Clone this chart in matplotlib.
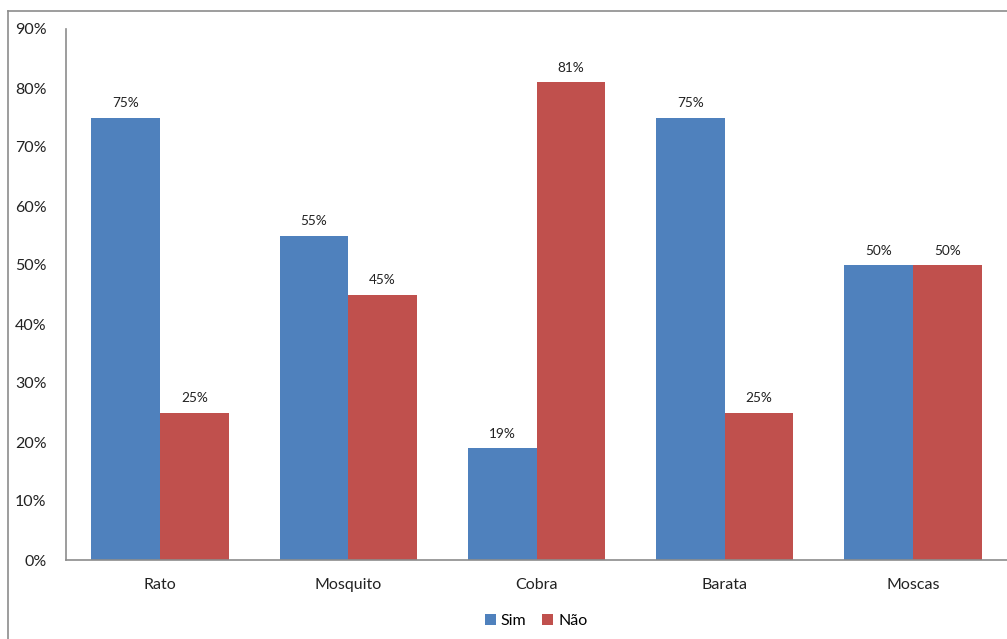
import matplotlib
matplotlib.use("Agg")
import matplotlib.pyplot as plt
from matplotlib.lines import Line2D
import numpy as np

categories = ["Rato", "Mosquito", "Cobra", "Barata", "Moscas"]
sim = [75, 55, 19, 75, 50]
nao = [25, 45, 81, 25, 50]
series_names = ["Sim", "Não"]
colors = ["#4F81BD", "#C0504D"]

plt.rcParams["font.family"] = ["Lato", "DejaVu Sans"]

fig = plt.figure(figsize=(10.07, 6.39), dpi=100)
ax = fig.add_axes([66 / 1007, 79 / 639, 941 / 1007, 531 / 639])

x = np.arange(len(categories))
w = 0.365
b1 = ax.bar(x - w / 2, sim, w, color=colors[0], label=series_names[0])
b2 = ax.bar(x + w / 2, nao, w, color=colors[1], label=series_names[1])

for bars in (b1, b2):
    for r in bars:
        ax.annotate(f"{r.get_height():.0f}%",
                    (r.get_x() + r.get_width() / 2, r.get_height()),
                    xytext=(0, 6), textcoords="offset points",
                    ha="center", va="bottom", fontsize=9.8, color="#222222")

ax.set_xlim(-0.5, len(categories) - 0.5)
ax.set_ylim(0, 90)
ax.set_yticks(np.arange(0, 91, 10))
ax.set_yticklabels([f"{v}%" for v in range(0, 91, 10)])
ax.set_xticks(x)
ax.set_xticklabels(categories)
ax.tick_params(axis="y", length=0, pad=14, labelsize=11.5, colors="#222222")
ax.tick_params(axis="x", length=0, pad=13, labelsize=11.5, colors="#222222")
for s in ("top", "right"):
    ax.spines[s].set_visible(False)
for s in ("left", "bottom"):
    ax.spines[s].set_color("#8C8C8C")
    ax.spines[s].set_linewidth(1.2)

ax.legend(loc="upper center", bbox_to_anchor=(470 / 941, -0.075), ncol=2,
          frameon=False, fontsize=11.5, handlelength=0.7, handleheight=0.7,
          handletextpad=0.3, columnspacing=1.0)

# outer chart border
fig.add_artist(Line2D([8 / 1007, 8 / 1007], [0, 1 - 11 / 639],
                      transform=fig.transFigure, color="#8C8C8C", lw=1.2))
fig.add_artist(Line2D([8 / 1007, 1], [1 - 11 / 639, 1 - 11 / 639],
                      transform=fig.transFigure, color="#8C8C8C", lw=1.2))

fig.savefig("out.png", dpi=100)
